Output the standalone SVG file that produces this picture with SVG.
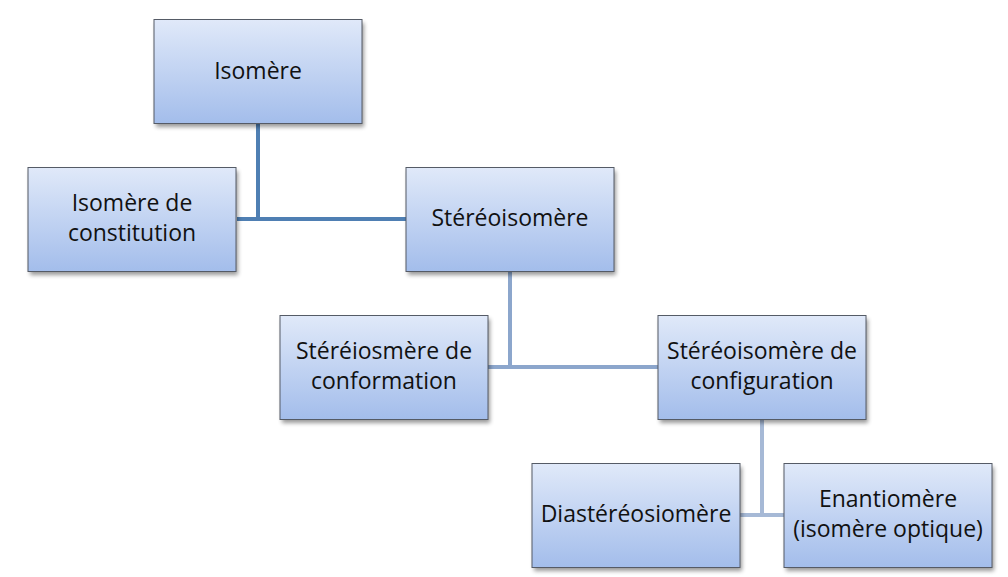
<svg xmlns="http://www.w3.org/2000/svg" width="1008" height="577" viewBox="0 0 1008 577">
<style>
.box{fill:url(#g);stroke:#555b66;stroke-width:1}
.sh{fill:#000;opacity:0.4;filter:url(#blur)}
text{font-family:"Open Sans","Liberation Sans",sans-serif;font-size:23px;fill:#111;text-anchor:middle}
.c1{stroke:#4f7fb3;stroke-width:4;fill:none}
.c2{stroke:#8ca6cc;stroke-width:4;fill:none}
.c3{stroke:#a6b9d6;stroke-width:4;fill:none}
</style>
<defs>
<linearGradient id="g" x1="0" y1="0" x2="0" y2="1">
<stop offset="0" stop-color="#e0e9f9"/>
<stop offset="1" stop-color="#a3bdeb"/>
</linearGradient>
<filter id="blur" x="-10%" y="-10%" width="120%" height="130%"><feGaussianBlur stdDeviation="2"/></filter>
</defs>
<rect width="1008" height="577" fill="#fff"/>
<g id="connectors">
<path class="c1" d="M258 124 V219 M237 219 H406"/>
<path class="c2" d="M510 271 V367 M488 367 H658"/>
<path class="c3" d="M762 419 V515 M740 515 H784"/>
</g>
<g id="n1"><rect class="sh" x="156" y="23" width="208" height="104"/><rect class="box" x="154" y="19.5" width="208" height="104"/><text x="258" y="79">Isomère</text></g>
<g id="n2"><rect class="sh" x="30" y="171" width="208" height="104"/><rect class="box" x="28" y="167.5" width="208" height="104"/><text x="132" y="211">Isomère de</text><text x="132" y="241">constitution</text></g>
<g id="n3"><rect class="sh" x="408" y="171" width="208" height="104"/><rect class="box" x="406" y="167.5" width="208" height="104"/><text x="510" y="226">Stéréoisomère</text></g>
<g id="n4"><rect class="sh" x="282" y="319" width="208" height="104"/><rect class="box" x="280" y="315.5" width="208" height="104"/><text x="384" y="359">Stéréiosmère de</text><text x="384" y="389">conformation</text></g>
<g id="n5"><rect class="sh" x="660" y="319" width="208" height="104"/><rect class="box" x="658" y="315.5" width="208" height="104"/><text x="762" y="359">Stéréoisomère de</text><text x="762" y="389">configuration</text></g>
<g id="n6"><rect class="sh" x="534" y="467" width="208" height="104"/><rect class="box" x="532" y="463.5" width="208" height="104"/><text x="636" y="522">Diastéréosiomère</text></g>
<g id="n7"><rect class="sh" x="786" y="467" width="208" height="104"/><rect class="box" x="784" y="463.5" width="208" height="104"/><text x="888" y="507">Enantiomère</text><text x="888" y="537">(isomère optique)</text></g>
</svg>
